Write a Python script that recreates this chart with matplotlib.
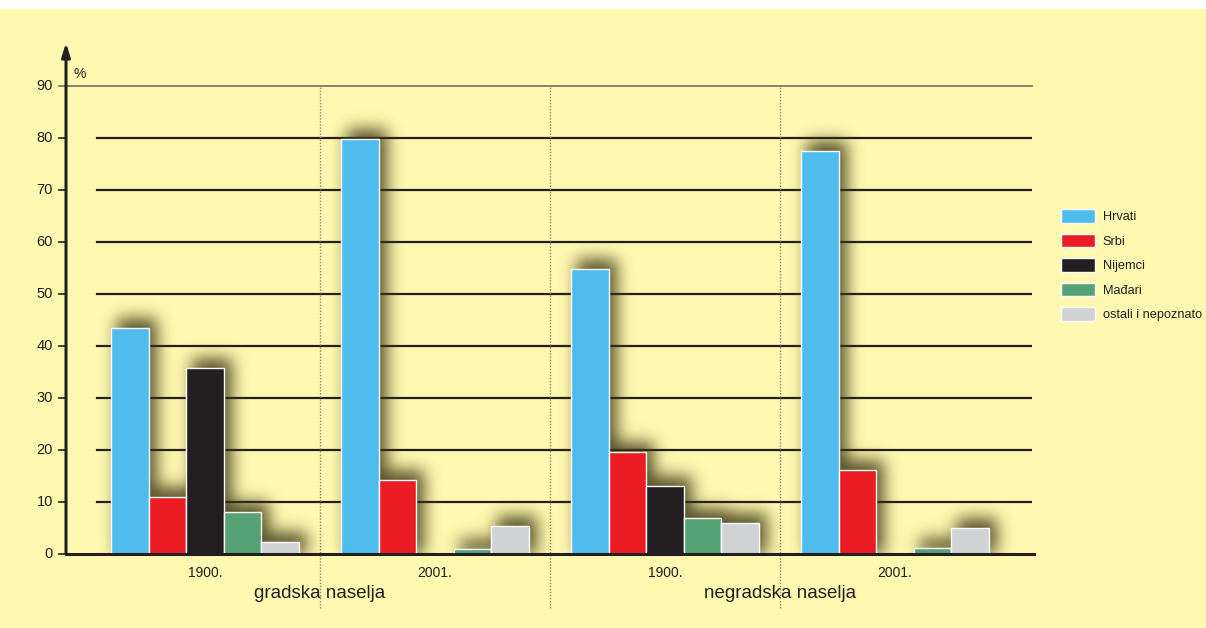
import matplotlib
matplotlib.use('agg')
import numpy as np
import matplotlib.pyplot as plt
from matplotlib.patches import Patch, Rectangle

# data
groups = ['1900.', '2001.', '1900.', '2001.']
settlements = ['gradska naselja', 'negradska naselja']
nations = ['Hrvati', 'Srbi', 'Nijemci', 'Mađari', 'ostali i nepoznato']
hrvati = [43.5, 79.8, 54.8, 77.5]
srbi = [11.0, 14.2, 19.6, 16.2]
nijemci = [35.8, 0.0, 13.1, 0.0]
madari = [8.1, 1.0, 6.9, 1.2]
ostali = [2.3, 5.4, 6.0, 5.0]
yticks = list(range(0, 100, 10))

colors = ['#4ebdee', '#ec1c24', '#231f20', '#55a375', '#d1d3d4']
bg = '#fff8b0'
ink = '#231f20'

W, H = 1206, 628
fig = plt.figure(figsize=(W / 100, H / 100), dpi=100, facecolor=bg)
# white strip at the top of the page
fig.patches.append(Rectangle((0, 1 - 8 / H), 1, 8 / H, transform=fig.transFigure,
                             color='white', zorder=0))

x0, x1, y0, y1 = 66, 1032, 554, 48
ax = fig.add_axes([x0 / W, 1 - y0 / H, (x1 - x0) / W, (y0 - y1) / H])
ax.set_facecolor('none')
px_x = 1 / 230.0
px_y = 1 / 5.2
xlo = -(205 - x0) * px_x
xhi = (x1 - 205) * px_x
ylo, yhi = 0, (y0 - y1) * px_y
ax.set_xlim(xlo, xhi)
ax.set_ylim(ylo, yhi)
for s in ax.spines.values():
    s.set_visible(False)
ax.set_xticks([])
ax.set_yticks([])

font = ['Liberation Sans', 'DejaVu Sans']

# grid lines
for v in yticks[1:]:
    if v == 90:
        ax.plot([xlo - 7 * px_x, xhi], [v, v], color='#6e6e55', lw=1.2, clip_on=False, zorder=1)
    else:
        ax.plot([xlo - 7 * px_x, xlo], [v, v], color=ink, lw=1.2, clip_on=False, zorder=1)
        ax.plot([xlo + 31 * px_x, xhi], [v, v], color=ink, lw=1.6, zorder=1)
for v in yticks:
    ax.text(xlo - 13 * px_x, v, str(v), ha='right', va='center', fontsize=10.5,
            family=font, color=ink)
ax.plot([xlo - 7 * px_x, xlo], [0, 0], color=ink, lw=1.2, clip_on=False, zorder=1)

# bars
series = [hrvati, srbi, nijemci, madari, ostali]
n = len(series)
bw = 37.5 * px_x
xs = np.arange(len(groups))

# soft blurred shadow behind the bars (mask in pixel grid, then gaussian blur)
nx, ny = x1 - x0, y0 - y1
mask = np.zeros((ny, nx))
for i, vals in enumerate(series):
    pos = xs + (i - (n - 1) / 2) * bw
    for p, v in zip(pos, vals):
        if v <= 0:
            continue
        c0 = int(round((p - bw / 2 - xlo) / px_x)) + 6
        c1 = int(round((p + bw / 2 - xlo) / px_x)) + 8
        r1 = int(round(v / px_y)) + 10
        mask[ny - r1:ny, max(c0, 0):min(c1, nx)] = 1.0
sig = 8.0
kx = np.arange(-28, 29)
kern = np.exp(-kx ** 2 / (2 * sig ** 2))
kern /= kern.sum()
mask = np.apply_along_axis(lambda r: np.convolve(r, kern, mode='same'), 1, mask)
mask = np.apply_along_axis(lambda c: np.convolve(c, kern, mode='same'), 0, mask)
shadow = np.zeros((ny, nx, 4))
shadow[..., 0] = 58 / 255
shadow[..., 1] = 54 / 255
shadow[..., 2] = 18 / 255
shadow[..., 3] = np.clip(mask * 0.85, 0, 1)
ax.imshow(shadow, extent=(xlo, xhi, ylo, yhi), origin='upper', aspect='auto',
          interpolation='bilinear', zorder=2)

for i, vals in enumerate(series):
    pos = xs + (i - (n - 1) / 2) * bw
    ax.bar(pos, vals, width=bw, color=colors[i], edgecolor='white', linewidth=1.0, zorder=3)

# baseline and y axis with arrow
ax.plot([xlo, xhi + 2 * px_x], [0, 0], color=ink, lw=2.2, zorder=4, clip_on=False)
ax.annotate('', xy=(xlo, yhi + 1), xytext=(xlo, 0),
            arrowprops=dict(arrowstyle='-|>,head_width=0.25,head_length=0.8',
                            color=ink, lw=2.2, shrinkA=0, shrinkB=0),
            annotation_clip=False, zorder=5)
ax.text(xlo + 7 * px_x, 92.4, '%', fontsize=10, family=font,
        color=ink, ha='left', va='center')

# dotted separators
for sx in [0.5, 1.5, 2.5]:
    ax.plot([sx, sx], [-54 * px_y, 90], color='#8a8a70', lw=1.0, ls=(0, (1, 1.2)),
            clip_on=False, zorder=1)

# category labels
for gx, g in zip(xs, groups):
    ax.text(gx, -19 * px_y, g, ha='center', va='center', fontsize=10, family=font,
            color=ink)
ax.text(0.5, -40 * px_y, settlements[0], ha='center', va='center',
        fontsize=13.5, family=font, color=ink)
ax.text(2.5, -40 * px_y, settlements[1], ha='center', va='center',
        fontsize=13.5, family=font, color=ink)

# legend
handles = [Patch(facecolor=c, edgecolor='white', linewidth=1.0) for c in colors]
fig.legend(handles, nations, loc='upper left', bbox_to_anchor=(1061 / W, 1 - 209 / H),
           frameon=False, prop={'family': font, 'size': 9.2}, handlelength=2.65,
           handleheight=1.25, labelspacing=0.82, handletextpad=0.6, borderpad=0,
           borderaxespad=0, labelcolor=ink)

fig.savefig('out.png', dpi=100, facecolor=bg)
